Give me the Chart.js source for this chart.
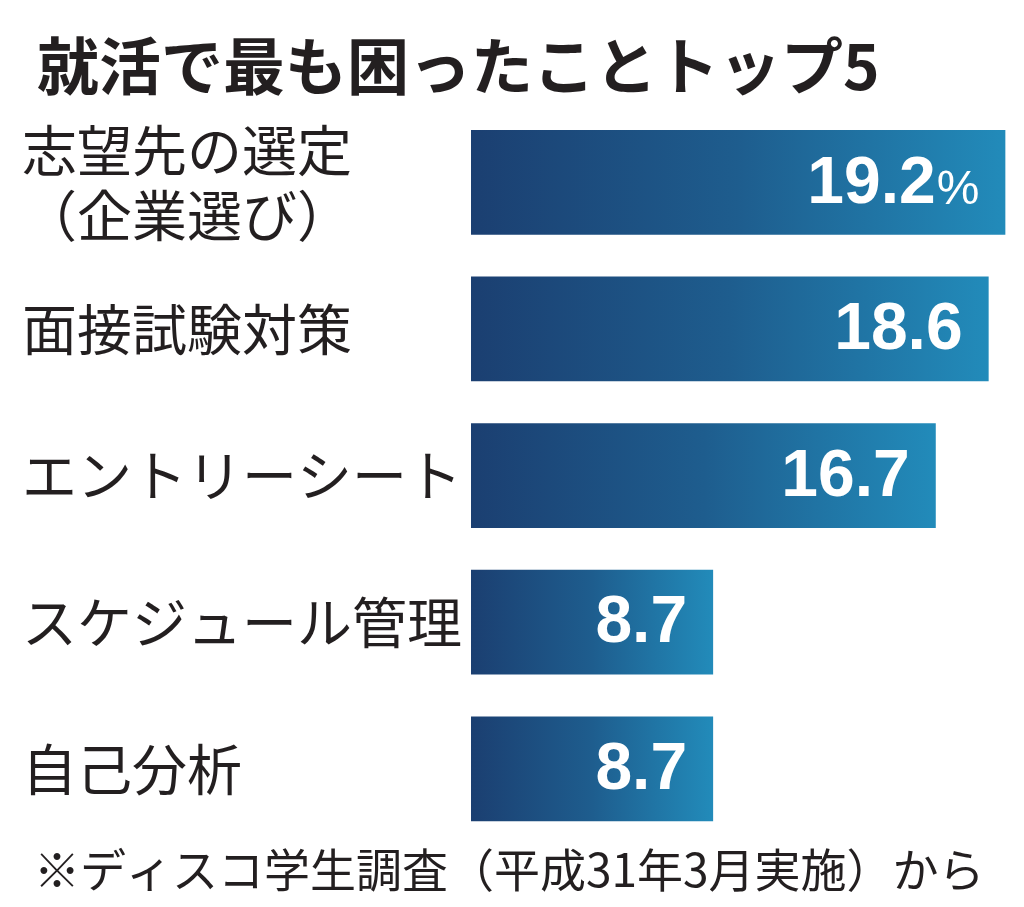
<!DOCTYPE html>
<html>
<head>
<meta charset="utf-8">
<script src="https://cdn.jsdelivr.net/npm/chart.js@4"></script>
<style>
  body { margin: 0; background: #fff; }
  #wrap { width: 1024px; height: 907px; position: relative; }
</style>
</head>
<body>
<div id="wrap"><canvas id="myChart"></canvas></div>
<script>
const titleText = '就活で最も困ったことトップ5';
const noteText = '※ディスコ学生調査（平成31年3月実施）から';
const categories = [['志望先の選定', '（企業選び）'], '面接試験対策', 'エントリーシート', 'スケジュール管理', '自己分析'];
const values = [19.2, 18.6, 16.7, 8.7, 8.7];
const valueLabels = ['19.2', '18.6', '16.7', '8.7', '8.7'];
const unitLabel = '%'; // shown only on the first bar

const textColor = '#231f20';
const jpFont = '"Noto Sans CJK JP", "Noto Sans", sans-serif';

// title + footnote, drawn straight on the canvas
const headerFooter = {
  id: 'headerFooter',
  afterDraw(chart) {
    const c = chart.ctx;
    c.save();
    c.fillStyle = textColor;
    c.textAlign = 'left';
    c.textBaseline = 'middle';
    c.font = 'bold 62px ' + jpFont;
    c.fillText(titleText, 37, 66);
    c.font = '46px ' + jpFont;
    c.fillText(noteText, 34, 870);
    c.restore();
  }
};

// white value numbers inside the end of each bar
const valueText = {
  id: 'valueText',
  afterDatasetsDraw(chart) {
    const c = chart.ctx;
    const bars = chart.getDatasetMeta(0).data;
    c.save();
    c.fillStyle = '#fff';
    c.textBaseline = 'middle';
    c.textAlign = 'right';
    bars.forEach((bar, i) => {
      let x = bar.x - 26;
      const y = bar.y + 2;
      if (i === 0) {
        c.font = '48px "Liberation Sans", Arial, sans-serif';
        c.fillText(unitLabel, x, y + 6);
        x -= c.measureText(unitLabel).width + 1;
      }
      c.font = 'bold 66px "Liberation Sans", Arial, sans-serif';
      c.fillText(valueLabels[i], x, y);
    });
    c.restore();
  }
};

var ctx = document.getElementById('myChart').getContext('2d');

var myChart = new Chart(ctx, {
  type: 'bar',
  data: {
    labels: categories,
    datasets: [{
      data: values,
      backgroundColor: (context) => {
        const chart = context.chart;
        if (!chart.chartArea || context.dataIndex === undefined) return '#1e5e8f';
        const xs = chart.scales.x;
        const x0 = xs.getPixelForValue(0);
        const x1 = xs.getPixelForValue(values[context.dataIndex]);
        const g = chart.ctx.createLinearGradient(x0, 0, x1, 0);
        g.addColorStop(0, '#1b3f71');
        g.addColorStop(0.5, '#1e5d8e');
        g.addColorStop(1, '#228bba');
        return g;
      },
      borderWidth: 0,
      barPercentage: 1,
      categoryPercentage: 0.714
    }]
  },
  options: {
    indexAxis: 'y',
    responsive: true,
    maintainAspectRatio: false,
    animation: false,
    events: [],
    layout: { padding: { top: 109, bottom: 63, left: 22, right: 0 } },
    plugins: {
      legend: { display: false },
      tooltip: { enabled: false },
      title: { display: false }
    },
    scales: {
      x: {
        display: false,
        min: 0,
        max: 19.87
      },
      y: {
        grid: { display: false, drawTicks: false },
        border: { display: false },
        afterFit: (scale) => { scale.width = 449; },
        ticks: {
          crossAlign: 'far',
          color: textColor,
          font: { family: jpFont, size: 55, lineHeight: 1.18 },
          padding: 0
        }
      }
    }
  },
  plugins: [headerFooter, valueText]
});
</script>
</body>
</html>
